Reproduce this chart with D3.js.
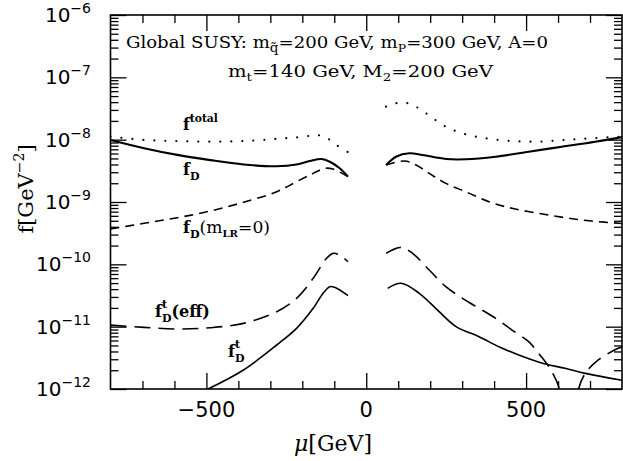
<!DOCTYPE html>
<html>
<head>
<meta charset="utf-8">
<script src="https://cdn.jsdelivr.net/npm/d3@7"></script>
<style>
  html, body { margin: 0; padding: 0; background: #fff; }
  svg { display: block; }
</style>
</head>
<body>
<svg id="chart" width="623" height="461"></svg>
<script>
// ---- Data: μ in GeV, f in GeV^-2; each curve has a μ<0 and a μ>0 branch ----
const muTotalNeg = [-800, -695, -591, -488, -384, -280, -197, -156, -124, -93, -57];
const fTotalNeg  = [1.12e-8, 9.9e-9, 9.5e-9, 9.3e-9, 9.5e-9, 1.03e-8, 1.11e-8, 1.19e-8, 1.07e-8, 8.2e-9, 6.3e-9];
const muTotalPos = [62, 109, 145, 187, 249, 311, 374, 456, 539, 622, 705, 800];
const fTotalPos  = [3.38e-8, 3.97e-8, 3.6e-8, 2.65e-8, 1.61e-8, 1.22e-8, 1.05e-8, 9.5e-9, 9.3e-9, 9.9e-9, 1.05e-8, 1.12e-8];

const muDNeg = [-800, -695, -591, -488, -384, -280, -218, -176, -140, -114, -83, -57];
const fDNeg  = [9.9e-9, 7.3e-9, 5.7e-9, 4.7e-9, 4.0e-9, 3.74e-9, 4.0e-9, 4.55e-9, 4.9e-9, 4.43e-9, 3.48e-9, 2.55e-9];
const muDPos = [62, 93, 135, 176, 249, 311, 405, 508, 612, 716, 800];
const fDPos  = [3.92e-9, 5.33e-9, 6.04e-9, 5.68e-9, 4.9e-9, 4.84e-9, 5.33e-9, 6.41e-9, 7.71e-9, 9.27e-9, 1.10e-8];

const muLR0Neg = [-800, -695, -591, -488, -384, -280, -218, -166, -130, -104, -57];
const fLR0Neg  = [3.69e-10, 4.55e-10, 5.6e-10, 7.16e-10, 9.9e-10, 1.46e-9, 2.12e-9, 2.88e-9, 3.47e-9, 3.38e-9, 2.55e-9];
const muLR0Pos = [62, 119, 156, 197, 249, 311, 384, 456, 539, 622, 705, 800];
const fLR0Pos  = [3.92e-9, 4.54e-9, 3.92e-9, 2.88e-9, 1.99e-9, 1.46e-9, 1.01e-9, 7.91e-10, 6.58e-10, 5.6e-10, 4.95e-10, 4.52e-10];

const muEffNeg = [-800, -695, -591, -488, -384, -280, -218, -166, -124, -104, -83, -57];
const fEffNeg  = [1.06e-11, 9.75e-12, 9.16e-12, 9.62e-12, 1.13e-11, 1.74e-11, 2.85e-11, 5.97e-11, 1.25e-10, 1.50e-10, 1.41e-10, 1.10e-10];
const muEffPos = [62, 109, 145, 197, 249, 301, 353, 405, 456, 508, 539, 571, 602, 615];
const fEffPos  = [1.50e-10, 1.87e-10, 1.50e-10, 8.1e-11, 4.38e-11, 2.85e-11, 1.97e-11, 1.36e-11, 8.83e-12, 5.74e-12, 3.73e-12, 2.28e-12, 1.09e-12, 4e-13];
const muEffTail = [652, 664, 685, 726, 788, 800];
const fEffTail  = [4e-13, 1.0e-12, 1.78e-12, 2.92e-12, 4.5e-12, 4.7e-12];

const muTNeg = [-495, -384, -280, -218, -166, -135, -114, -99, -57];
const fTNeg  = [1.0e-12, 2.02e-12, 5.08e-12, 9.4e-12, 1.97e-11, 3.43e-11, 4.38e-11, 4.28e-11, 3.14e-11];
const muTPos = [67, 109, 166, 228, 281, 353, 415, 477, 560, 622, 685, 800];
const fTPos  = [4.12e-11, 4.97e-11, 3.43e-11, 1.74e-11, 1.0e-11, 6.9e-12, 4.76e-12, 3.51e-12, 2.51e-12, 2.15e-12, 1.78e-12, 1.38e-12];

// ---- Axis ticks ----
const xMajorTicks = [-500, 0, 500];
const xMinorTicks = [-700, -600, -400, -300, -200, -100, 100, 200, 300, 400, 600, 700];
const yDecadeExponents = [-6, -7, -8, -9, -10, -11, -12];

// ---- Layout ----
const svg = d3.select("#chart");
const plot = { left: 110.5, right: 622, top: 15, bottom: 389 };

const x = d3.scaleLinear().domain([-800, 800]).range([plot.left, plot.right]);
const y = d3.scaleLog().domain([1e-12, 1e-6]).range([plot.bottom, plot.top]);

const SERIF = "'DejaVu Serif', serif";
const SANS = "'DejaVu Sans', sans-serif";

svg.append("defs").append("clipPath").attr("id", "plotClip")
  .append("rect")
  .attr("x", plot.left).attr("y", plot.top)
  .attr("width", plot.right - plot.left).attr("height", plot.bottom - plot.top);

// minor y ticks: 2..9 × 10^e in each decade
const yMinorTicks = [];
for (let e = -12; e < -6; e++) for (let k = 2; k <= 9; k++) yMinorTicks.push(k * Math.pow(10, e));
const yMajorTicks = yDecadeExponents.map(e => Math.pow(10, e));

function cleanAxis(g) {
  g.select(".domain").remove();
  g.selectAll("line").attr("stroke", "#000").attr("stroke-width", 1.3);
}

// inward ticks on all four sides
svg.append("g").attr("transform", `translate(0,${plot.bottom})`)
  .call(d3.axisBottom(x).tickValues(xMajorTicks).tickSize(-16).tickFormat("")).call(cleanAxis);
svg.append("g").attr("transform", `translate(0,${plot.bottom})`)
  .call(d3.axisBottom(x).tickValues(xMinorTicks).tickSize(-8).tickFormat("")).call(cleanAxis);
svg.append("g").attr("transform", `translate(0,${plot.top})`)
  .call(d3.axisTop(x).tickValues(xMajorTicks).tickSize(-16).tickFormat("")).call(cleanAxis);
svg.append("g").attr("transform", `translate(0,${plot.top})`)
  .call(d3.axisTop(x).tickValues(xMinorTicks).tickSize(-8).tickFormat("")).call(cleanAxis);

svg.append("g").attr("transform", `translate(${plot.left},0)`)
  .call(d3.axisLeft(y).tickValues(yMajorTicks).tickSize(-16).tickFormat("")).call(cleanAxis);
svg.append("g").attr("transform", `translate(${plot.left},0)`)
  .call(d3.axisLeft(y).tickValues(yMinorTicks).tickSize(-8).tickFormat("")).call(cleanAxis);
svg.append("g").attr("transform", `translate(${plot.right},0)`)
  .call(d3.axisRight(y).tickValues(yMajorTicks).tickSize(-16).tickFormat("")).call(cleanAxis);
svg.append("g").attr("transform", `translate(${plot.right},0)`)
  .call(d3.axisRight(y).tickValues(yMinorTicks).tickSize(-8).tickFormat("")).call(cleanAxis);

// frame
svg.append("rect")
  .attr("x", plot.left).attr("y", plot.top)
  .attr("width", plot.right - plot.left).attr("height", plot.bottom - plot.top)
  .attr("fill", "none").attr("stroke", "#000").attr("stroke-width", 1.6);

// x tick labels
svg.append("g").selectAll("text").data(xMajorTicks).join("text")
  .attr("x", d => x(d)).attr("y", 417)
  .attr("text-anchor", "middle")
  .attr("font-family", SANS).attr("font-size", 21).attr("fill", "#000")
  .text(d => d < 0 ? "\u2212" + Math.abs(d) : String(d));

// y tick labels: 10 with a superscript exponent
const yLab = svg.append("g");
yDecadeExponents.forEach(e => {
  const t = yLab.append("text")
    .attr("x", 91).attr("y", y(Math.pow(10, e)) + 7)
    .attr("text-anchor", "end")
    .attr("font-family", SANS).attr("fill", "#000");
  t.append("tspan").attr("font-size", 20).text("10");
  t.append("tspan").attr("font-size", 14).attr("dy", -9).text("\u2212" + Math.abs(e));
});

// ---- Curves ----
const line = d3.line()
  .x(d => x(d[0])).y(d => y(d[1]))
  .curve(d3.curveCatmullRom.alpha(0.5));

const curves = svg.append("g").attr("clip-path", "url(#plotClip)");
function drawCurve(mu, f, style) {
  curves.append("path")
    .datum(d3.zip(mu, f))
    .attr("d", line)
    .attr("fill", "none")
    .attr("stroke", "#000")
    .attr("stroke-width", style.width)
    .attr("stroke-dasharray", style.dash || null)
    .attr("stroke-linecap", style.cap || "butt")
    .attr("stroke-linejoin", "round");
}
const styleTotal = { width: 2.2, dash: "0 11", cap: "round" };
const styleD = { width: 2.1 };
const styleLR0 = { width: 1.6, dash: "9 6" };
const styleEff = { width: 1.6, dash: "16 8" };
const styleT = { width: 1.6 };

drawCurve(muTotalNeg, fTotalNeg, styleTotal);
drawCurve(muTotalPos, fTotalPos, styleTotal);
drawCurve(muDNeg, fDNeg, styleD);
drawCurve(muDPos, fDPos, styleD);
drawCurve(muLR0Neg, fLR0Neg, styleLR0);
drawCurve(muLR0Pos, fLR0Pos, styleLR0);
drawCurve(muEffNeg, fEffNeg, styleEff);
drawCurve(muEffPos, fEffPos, styleEff);
drawCurve(muEffTail, fEffTail, styleEff);
drawCurve(muTNeg, fTNeg, styleT);
drawCurve(muTPos, fTPos, styleT);

// ---- Rich text helper: runs of text with sub/superscripts, stacks for D and t.
// If `fit` is given, the run is stretched horizontally to that width.
function richText(parent, x0, yBase, segs, base, fit) {
  const g = parent.append("g");
  let cx = x0;
  function put(s, px) {
    const t = g.append("text")
      .attr("x", px).attr("y", yBase + (s.shift || 0))
      .attr("font-family", base.family)
      .attr("font-size", s.size || base.size)
      .attr("font-weight", s.weight || base.weight || "normal")
      .attr("font-style", s.style || "normal")
      .attr("fill", "#000")
      .text(s.t);
    return t.node().getComputedTextLength();
  }
  segs.forEach(s => {
    if (s.stack) {
      const w = Math.max(...s.stack.map(p => put(p, cx)));
      cx += w;
    } else {
      cx += put(s, cx);
    }
  });
  let width = cx - x0;
  if (fit && width > 0) {
    const k = fit / width;
    g.attr("transform", `translate(${x0},0) scale(${k},1) translate(${-x0},0)`);
    width = fit;
  }
  return { g, width };
}

// header
const head = { family: SERIF, size: 16 };
richText(svg, 126, 48, [
  { t: "Global SUSY:  m" }, { t: "q\u0303", size: 12, shift: 4 },
  { t: " =200 GeV, m" }, { t: "P", size: 11, shift: 4 },
  { t: "=300 GeV, A=0" }
], head, 422);
richText(svg, 228, 77, [
  { t: "m" }, { t: "t", size: 11, shift: 4 },
  { t: "=140 GeV, M" }, { t: "2", size: 11, shift: 4 },
  { t: "=200 GeV" }
], head, 265);

// curve labels
const lab = { family: SERIF, size: 16, weight: "bold" };
richText(svg, 183, 130, [
  { t: "f" }, { t: "total", size: 11, shift: -8 }
], lab, 35);
richText(svg, 183, 175, [
  { t: "f" }, { t: "D", size: 11, shift: 5 }
], lab);
richText(svg, 183, 233, [
  { t: "f" }, { t: "D", size: 11, shift: 5 },
  { t: "(m", weight: "normal", size: 17 }, { t: "LR", size: 10, shift: 4 },
  { t: "=0)", weight: "normal", size: 17 }
], lab, 87);
richText(svg, 155, 317, [
  { t: "f" }, { stack: [{ t: "D", size: 11, shift: 5 }, { t: "t", size: 11, shift: -9 }] },
  { t: "(eff)" }
], lab, 55);
richText(svg, 228, 357, [
  { t: "f" }, { stack: [{ t: "D", size: 11, shift: 5 }, { t: "t", size: 11, shift: -9 }] }
], lab);

// axis titles
const yTitle = svg.append("g");
const yt = richText(yTitle, 0, 0, [
  { t: "f[GeV" }, { t: "\u22122", size: 14, shift: -9 }, { t: "]" }
], { family: SERIF, size: 21 });
yt.g.attr("transform", `translate(33,189) rotate(-90) translate(${-yt.width / 2},0)`);

const xTitle = svg.append("g");
const xt = richText(xTitle, 0, 0, [
  { t: "\u03bc", style: "italic" }, { t: "[GeV]" }
], { family: SERIF, size: 22 });
xt.g.attr("transform", `translate(${333 - xt.width / 2},451)`);
</script>
</body>
</html>
